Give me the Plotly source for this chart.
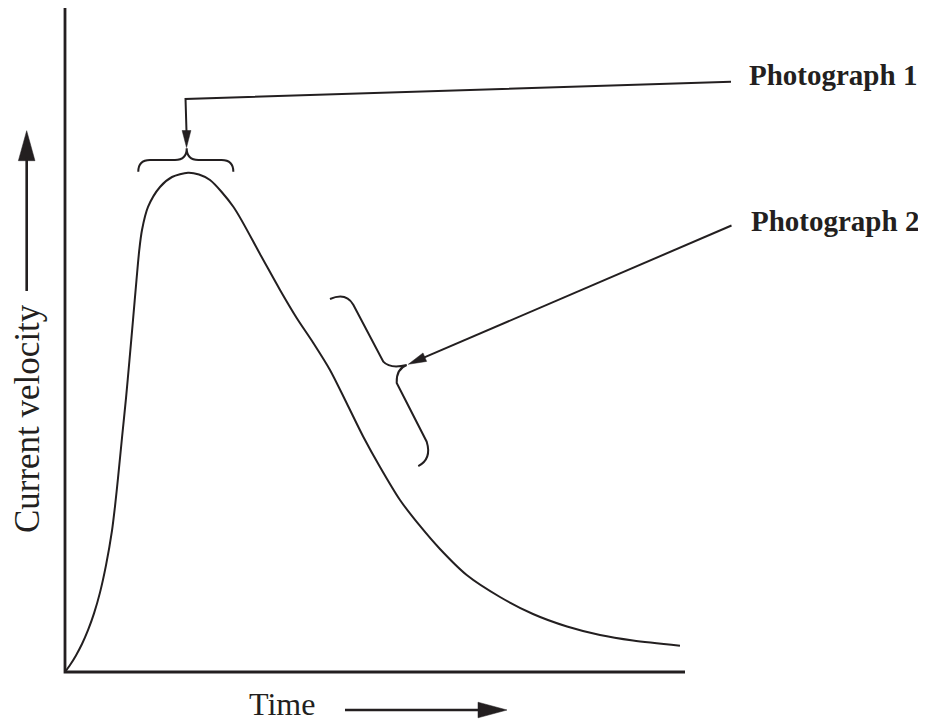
import plotly.graph_objects as go
import math

# ---- data (time units, velocity units) ----
time = [0.0, 0.081, 0.177, 0.274, 0.371, 0.468, 0.565, 0.661, 0.758, 0.806, 0.855,
        0.919, 0.984, 1.040, 1.097, 1.153, 1.198, 1.242, 1.339, 1.532, 1.726, 1.984,
        2.161, 2.339, 2.715, 3.145, 3.468, 3.737, 4.005, 4.274, 4.544, 4.811, 5.081,
        5.403, 5.726, 6.048, 6.479, 7.016, 7.548, 8.097, 8.629, 9.161, 9.919]
velocity = [0.0, 0.104, 0.247, 0.417, 0.622, 0.872, 1.185, 1.586, 2.104, 2.461, 2.887,
            3.482, 4.077, 4.643, 5.238, 5.833, 6.280, 6.577, 6.920, 7.217, 7.366, 7.430,
            7.403, 7.321, 6.924, 6.220, 5.685, 5.268, 4.896, 4.494, 3.999, 3.501, 3.051,
            2.560, 2.173, 1.830, 1.443, 1.116, 0.863, 0.677, 0.551, 0.469, 0.391]

x_axis_end = 10.0
y_axis_end = 9.88

x_label = "Time"
y_label = "Current velocity"
label1 = "Photograph 1"
label2 = "Photograph 2"

INK = "#231f20"
PXX, PXY = 62.0, 67.2  # pixels per data unit (from layout below)
XR = [-57 / PXX, 869 / PXX]
YR = [-58 / PXY, 664 / PXY]


def head(tip, toward, length, half_w):
    dx = (toward[0] - tip[0]) * PXX
    dy = (toward[1] - tip[1]) * PXY
    n = math.hypot(dx, dy)
    ux, uy = dx / n, dy / n
    bx, by = ux * length, uy * length
    px, py = -uy * half_w, ux * half_w
    c1 = (tip[0] + (bx + px) / PXX, tip[1] + (by + py) / PXY)
    c2 = (tip[0] + (bx - px) / PXX, tip[1] + (by - py) / PXY)
    b = (tip[0] + bx * 0.9 / PXX, tip[1] + by * 0.9 / PXY)
    path = f"M {tip[0]},{tip[1]} L {c1[0]},{c1[1]} L {c2[0]},{c2[1]} Z"
    return path, b


shapes = []


def line_path(path, w=2.0):
    shapes.append(dict(type="path", xref="x", yref="y", path=path,
                       line=dict(color=INK, width=w), fillcolor="rgba(0,0,0,0)"))


def fill_path(path):
    shapes.append(dict(type="path", xref="x", yref="y", path=path,
                       line=dict(color=INK, width=0.5), fillcolor=INK))


# axes
line_path(f"M 0,{y_axis_end} L 0,0 L {x_axis_end},0", w=2.8)

# y-label arrow
ya_tip = (-0.618, 8.055)
ya_tail = (-0.618, 5.670)
p, b = head(ya_tip, ya_tail, 30, 8.3)
fill_path(p)
line_path(f"M {ya_tail[0]},{ya_tail[1]} L {b[0]},{b[1]}", w=2.6)

# x-label arrow
xa_tail = (4.516, -0.5655)
xa_tip = (7.129, -0.5655)
p, b = head(xa_tip, xa_tail, 29, 7.8)
fill_path(p)
line_path(f"M {xa_tail[0]},{xa_tail[1]} L {b[0]},{b[1]}", w=2.6)

# Photograph 1 pointer
p1_start = (10.742, 8.784)
p1_corner = (1.944, 8.527)
p1_tip = (1.960, 7.805)
p, b = head(p1_tip, (1.960, 8.527), 17, 4.4)
fill_path(p)
line_path(f"M {p1_start[0]},{p1_start[1]} L {p1_corner[0]},{p1_corner[1]} "
          f"L {b[0]},{b[1]}", w=2.0)

# brace 1
line_path("M 1.182,7.445 Q 1.182,7.619 1.371,7.619 L 1.774,7.619 "
          "Q 1.963,7.619 1.963,7.793 Q 1.963,7.619 2.152,7.619 "
          "L 2.526,7.619 Q 2.715,7.619 2.715,7.445", w=2.0)

# Photograph 2 pointer
p2_start = (10.750, 6.644)
p2_tip = (5.537, 4.579)
p, b = head(p2_tip, p2_start, 18, 4.6)
fill_path(p)
line_path(f"M {p2_start[0]},{p2_start[1]} L {b[0]},{b[1]}", w=2.0)

# brace 2
line_path("M 4.274,5.551 Q 4.532,5.655 4.650,5.466 L 5.134,4.618 "
          "Q 5.242,4.509 5.511,4.568 Q 5.339,4.509 5.350,4.301 "
          "L 5.834,3.427 Q 5.919,3.170 5.698,3.065", w=2.0)

fig = go.Figure()
fig.add_trace(go.Scatter(x=time, y=velocity, mode="lines",
                         line=dict(color=INK, width=2.0, shape="spline", smoothing=0.8),
                         hoverinfo="skip", showlegend=False))

serif = "Liberation Serif, Times New Roman, serif"
annotations = [
    dict(x=10.995, y=8.884, text=f"<b>{label1}</b>", xanchor="left", yanchor="middle",
         font=dict(family=serif, size=29, color=INK)),
    dict(x=11.037, y=6.711, text=f"<b>{label2}</b>", xanchor="left", yanchor="middle",
         font=dict(family=serif, size=29, color=INK)),
    dict(x=2.935, y=-0.47, text=x_label, xanchor="left", yanchor="middle",
         font=dict(family=serif, size=32, color=INK)),
    dict(x=-0.605, y=3.771, text=y_label, textangle=-90, xanchor="center", yanchor="middle",
         font=dict(family=serif, size=35, color=INK)),
]
for a in annotations:
    a.update(xref="x", yref="y", showarrow=False)

fig.update_layout(
    width=926, height=722,
    margin=dict(l=0, r=0, t=0, b=0),
    paper_bgcolor="white", plot_bgcolor="white",
    xaxis=dict(range=XR, visible=False, fixedrange=True),
    yaxis=dict(range=YR, visible=False, fixedrange=True),
    shapes=shapes, annotations=annotations, showlegend=False,
)
fig.write_html("out.html")
